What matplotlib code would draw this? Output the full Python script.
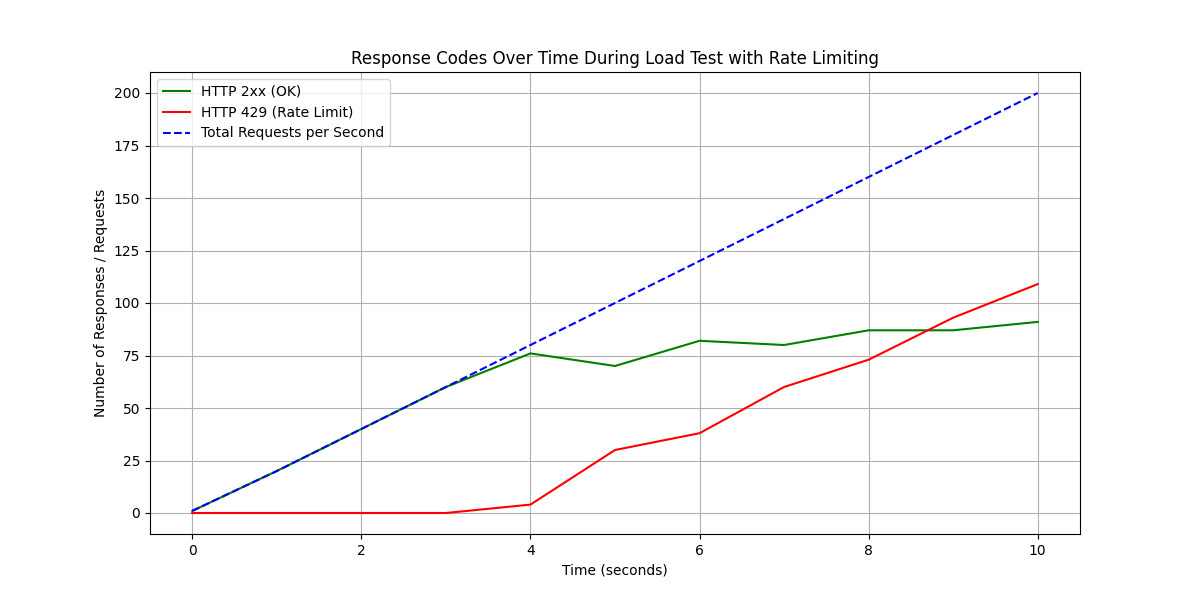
import matplotlib
matplotlib.use('Agg')
import matplotlib.pyplot as plt

# values
seconds = [0, 1, 2, 3, 4, 5, 6, 7, 8, 9, 10]
ok_2xx = [1, 20, 40, 60, 76, 70, 82, 80, 87, 87, 91]
rate_429 = [0, 0, 0, 0, 4, 30, 38, 60, 73, 93, 109]
total_rps = [1, 20, 40, 60, 80, 100, 120, 140, 160, 180, 200]

plt.figure(figsize=(12, 6))

plt.plot(seconds, ok_2xx, color='green', label='HTTP 2xx (OK)')
plt.plot(seconds, rate_429, color='red', label='HTTP 429 (Rate Limit)')
plt.plot(seconds, total_rps, color='blue', linestyle='--', label='Total Requests per Second')

plt.xlabel('Time (seconds)')
plt.ylabel('Number of Responses / Requests')
plt.title('Response Codes Over Time During Load Test with Rate Limiting')
plt.legend(loc='upper left')
plt.grid(True)

plt.savefig('out.png', dpi=100)
